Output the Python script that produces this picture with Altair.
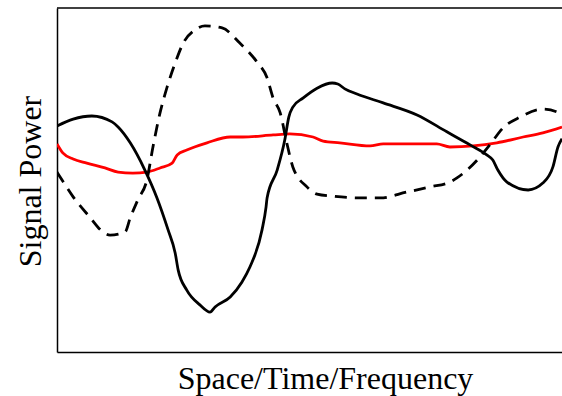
import altair as alt
import pandas as pd

# Black solid trace
solid_x = [0.00, 0.32, 0.69, 1.09, 1.21, 1.45, 1.74, 1.98, 2.20, 2.34, 2.40, 2.57, 2.83, 3.03,
           3.13, 3.43, 3.66, 3.82, 4.06, 4.14, 4.16, 4.36, 4.51, 4.59, 4.67, 4.87, 5.15, 5.45,
           5.56, 5.70, 5.94, 6.46, 7.13, 7.72, 8.18, 8.51, 8.63, 8.73, 8.91, 9.33, 9.62, 9.82,
           9.92, 10.0]
solid_y = [6.57, 6.77, 6.86, 6.69, 6.54, 6.08, 5.29, 4.48, 3.55, 2.88, 2.38, 1.80, 1.37, 1.16,
           1.31, 1.60, 2.03, 2.47, 3.55, 4.22, 4.48, 5.29, 6.16, 6.83, 7.12, 7.38, 7.67, 7.82,
           7.79, 7.65, 7.50, 7.24, 6.89, 6.40, 6.02, 5.73, 5.58, 5.29, 4.94, 4.71, 4.91, 5.38,
           5.96, 6.20]

# Black dashed trace
dashed_x = [0.00, 0.10, 0.32, 0.65, 0.91, 1.05, 1.35, 1.45, 1.60, 1.78, 1.90, 2.04, 2.18, 2.34,
            2.50, 2.73, 2.93, 3.27, 3.62, 3.96, 4.16, 4.28, 4.42, 4.55, 4.67, 4.95, 5.15, 5.47,
            6.00, 6.40, 6.93, 7.39, 7.78, 7.92, 8.32, 8.57, 8.83, 9.17, 9.62, 9.90, 10.0]
dashed_y = [5.23, 5.00, 4.51, 3.92, 3.49, 3.40, 3.49, 3.90, 4.42, 5.00, 5.96, 6.95, 7.70, 8.40,
            8.98, 9.36, 9.48, 9.42, 8.98, 8.43, 7.97, 7.38, 6.95, 6.08, 5.38, 4.80, 4.59, 4.53,
            4.48, 4.48, 4.65, 4.80, 4.94, 5.06, 5.58, 6.02, 6.51, 6.83, 7.06, 6.98, 6.89]

# Red trace
red_x = [0.00, 0.12, 0.32, 0.59, 0.95, 1.21, 1.50, 1.78, 2.04, 2.28, 2.38, 2.57, 2.97, 3.43,
         3.68, 4.28, 4.61, 5.07, 5.27, 5.60, 6.20, 6.46, 7.52, 7.78, 8.24, 8.71, 9.23, 9.62, 10.0]
red_y = [6.05, 5.78, 5.61, 5.49, 5.35, 5.23, 5.20, 5.23, 5.35, 5.49, 5.73, 5.87, 6.08, 6.25,
         6.25, 6.31, 6.34, 6.25, 6.13, 6.08, 5.99, 6.05, 6.05, 5.96, 5.99, 6.08, 6.25, 6.37, 6.54]

Y_TOP = 10


def frame(xs, ys):
    return pd.DataFrame({"x": xs, "y": ys, "order": range(len(xs))})


x_scale = alt.Scale(domain=[0, 10], nice=False, zero=False)
y_scale = alt.Scale(domain=[0, Y_TOP], nice=False, zero=False)

title_style = dict(titleFont="Liberation Serif", titleFontSize=32,
                   titleFontWeight="normal", titleColor="black",
                   domain=True, domainColor="black", domainWidth=1.5)

x_enc = alt.X("x:Q", scale=x_scale,
              axis=alt.Axis(title="Space/Time/Frequency", labels=False, ticks=False, grid=False,
                            titleX=268, titleY=36, titleAlign="center",
                            titleBaseline="alphabetic", **title_style))
y_enc = alt.Y("y:Q", scale=y_scale,
              axis=alt.Axis(title="Signal Power", labels=False, ticks=False, grid=False,
                            titleX=-17, titleY=173, titleAngle=270,
                            titleAlign="center", titleBaseline="alphabetic", **title_style))

line_style = dict(strokeWidth=2.8, clip=True, interpolate="monotone", strokeJoin="round")

# top edge of the frame (left and bottom come from the axis lines)
top_edge = alt.Chart(pd.DataFrame({"y": [Y_TOP]})).mark_rule(
    color="black", strokeWidth=1.5
).encode(y=alt.Y("y:Q", scale=y_scale))

red = alt.Chart(frame(red_x, red_y)).mark_line(
    color="#ff0000", **line_style
).encode(x=x_enc, y=y_enc, order="order:Q")

dashed = alt.Chart(frame(dashed_x, dashed_y)).mark_line(
    color="black", strokeDash=[12, 8], **line_style
).encode(x=x_enc, y=y_enc, order="order:Q")

solid = alt.Chart(frame(solid_x, solid_y)).mark_line(
    color="black", **line_style
).encode(x=x_enc, y=y_enc, order="order:Q")

chart = (
    alt.layer(red, dashed, solid, top_edge)
    .properties(width=505, height=344,
                background="white",
                autosize=alt.AutoSizeParams(type="none"),
                padding={"left": 57, "top": 8, "right": 0, "bottom": 44})
    .configure_view(strokeWidth=0)
)

chart.save("out.html", embed_options={"renderer": "svg", "actions": False})
